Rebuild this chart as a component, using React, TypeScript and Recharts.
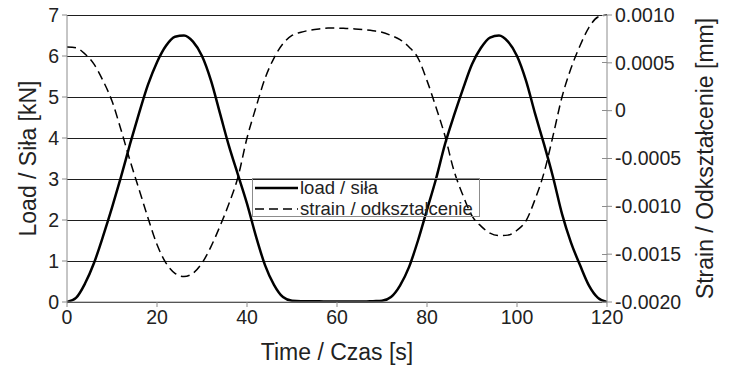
import { CartesianGrid, Legend, Line, LineChart, XAxis, YAxis } from 'recharts';

const times = [
  0, 2, 4, 6, 8, 10, 12, 14, 16, 18, 20, 22, 24, 26, 28, 30, 32, 34, 36, 38,
  40, 42, 44, 46, 48, 50, 52, 54, 56, 58, 60, 62, 64, 66, 68, 70, 72, 74, 76, 78,
  80, 82, 84, 86, 88, 90, 92, 94, 96, 98, 100, 102, 104, 106, 108, 110, 112, 114, 116, 118,
  120,
];

// kN
const load = [
  0, 0.1, 0.45, 0.95, 1.6, 2.3, 3.05, 3.85, 4.6, 5.3, 5.85, 6.25, 6.47, 6.5, 6.35, 6.0, 5.4, 4.6, 3.8, 3.1,
  2.4, 1.6, 0.9, 0.42, 0.12, 0.03, 0.02, 0.02, 0.02, 0.01, 0.01, 0.01, 0.01, 0.01, 0.02, 0.03, 0.12, 0.4, 0.85, 1.5,
  2.25, 3.0, 3.85, 4.55, 5.2, 5.8, 6.2, 6.45, 6.5, 6.35, 6.0, 5.4, 4.6, 3.85, 3.05, 2.15, 1.45, 0.9, 0.4, 0.1,
  0,
];

// mm
const strain = [
  0.000666, 0.000657, 0.000593, 0.000486, 0.000314, 0.0001, -0.0002, -0.000521, -0.000821, -0.001121,
  -0.0014, -0.001593, -0.0017, -0.001734, -0.0017, -0.001593, -0.001421, -0.001207, -0.000971, -0.000693,
  -0.000286, 0.000036, 0.000336, 0.00055, 0.0007, 0.000786, 0.00082, 0.000841, 0.000854, 0.000863,
  0.000863, 0.000859, 0.000854, 0.000846, 0.000835, 0.00082, 0.000786, 0.000743, 0.000666, 0.00055,
  0.000314, 0.000036, -0.000264, -0.000629, -0.000886, -0.0011, -0.001207, -0.00128, -0.001306, -0.001301,
  -0.00125, -0.001151, -0.000929, -0.00065, -0.000264, 0.000143, 0.000443, 0.000679, 0.000871, 0.000979,
  0.001,
];

const xTicks = [0, 20, 40, 60, 80, 100, 120];
const loadTicks = [0, 1, 2, 3, 4, 5, 6, 7];
const strainTicks = [-0.002, -0.0015, -0.001, -0.0005, 0, 0.0005, 0.001];

const data = times.map((t, i) => ({ t, load: load[i], strain: strain[i] }));

const FONT = '"Liberation Sans", Arial, Helvetica, sans-serif';
const TICK_SIZE = 5;
const TICK_MARGIN = 3;

function fmtStrain(v: number) {
  if (v === 0) return '0';
  return v.toFixed(4);
}

// right axis ticks cross the axis line (inside + outside)
function StrainTick({ x, y, payload }: any) {
  const axisX = x - TICK_MARGIN - TICK_SIZE;
  return (
    <g>
      <line x1={axisX - TICK_SIZE} y1={y} x2={axisX} y2={y} stroke="#8c8c8c" shapeRendering="crispEdges" />
      <text x={x} y={y} dy="0.35em" textAnchor="start" fill="#222" fontSize={19.5} fontFamily={FONT}>
        {fmtStrain(payload.value)}
      </text>
    </g>
  );
}

// grid lines drawn crisp so they stay dark like the original
function GridLine({ x1, x2, y1, y2 }: any) {
  return <line x1={x1} x2={x2} y1={y1} y2={y2} stroke="#1e1e1e" strokeWidth={1} shapeRendering="crispEdges" />;
}

function LegendBox() {
  return (
    <div
      style={{
        width: 228,
        height: 39,
        border: '1px solid #8c8c8c',
        boxSizing: 'border-box',
        position: 'relative',
        fontFamily: FONT,
        fontSize: 18.5,
        color: '#222',
      }}
    >
      <svg width={48} height={39} style={{ position: 'absolute', left: 0, top: 0 }}>
        <line x1={2} y1={9} x2={45} y2={9} stroke="#000" strokeWidth={2.5} />
        <line x1={2} y1={30} x2={45} y2={30} stroke="#000" strokeWidth={1.5} strokeDasharray="9 5" />
      </svg>
      <div style={{ position: 'absolute', left: 47, top: -2, lineHeight: '21px', whiteSpace: 'nowrap' }}>load / siła</div>
      <div style={{ position: 'absolute', left: 47, top: 19, lineHeight: '21px', whiteSpace: 'nowrap' }}>
        strain / odkształcenie
      </div>
    </div>
  );
}

export default function App() {
  return (
    <div style={{ position: 'absolute', left: 0, top: 0, width: 732, height: 370, background: '#fff', fontFamily: FONT }}>
      <LineChart width={732} height={370} data={data} margin={{ top: 15, right: 0, bottom: 0, left: 0 }}>
        <CartesianGrid yAxisId="load" vertical={false} horizontal={<GridLine />} />
        <XAxis
          dataKey="t"
          type="number"
          domain={[0, 120]}
          ticks={xTicks}
          height={68}
          stroke="#8c8c8c"
          tickSize={TICK_SIZE}
          tickMargin={3}
          tick={{ fill: '#222', fontSize: 19.5 }}
          label={{ value: 'Time / Czas [s]', position: 'center', dy: 16, fill: '#222', fontSize: 23 }}
        />
        <YAxis
          yAxisId="load"
          orientation="left"
          width={67}
          domain={[0, 7]}
          ticks={loadTicks}
          stroke="#8c8c8c"
          tickSize={TICK_SIZE}
          tickMargin={3}
          tick={{ fill: '#222', fontSize: 19.5 }}
          label={{ value: 'Load / Siła [kN]', angle: -90, position: 'center', dx: -6, fill: '#222', fontSize: 23 }}
        />
        <YAxis
          yAxisId="strain"
          orientation="right"
          width={125}
          domain={[-0.002, 0.001]}
          ticks={strainTicks}
          stroke="#8c8c8c"
          tickSize={TICK_SIZE}
          tickMargin={TICK_MARGIN}
          tick={<StrainTick />}
          label={{ value: 'Strain / Odkształcenie [mm]', angle: -90, position: 'center', dx: 35, fill: '#222', fontSize: 23 }}
        />
        <Legend
          layout="horizontal"
          align="center"
          verticalAlign="middle"
          content={<LegendBox />}
          wrapperStyle={{ left: 252, top: 178, width: 228, height: 39 }}
        />
        <Line
          yAxisId="load"
          type="monotone"
          dataKey="load"
          stroke="#000"
          strokeWidth={2.5}
          dot={false}
          isAnimationActive={false}
        />
        <Line
          yAxisId="strain"
          type="monotone"
          dataKey="strain"
          stroke="#000"
          strokeWidth={1.5}
          strokeDasharray="9 5"
          dot={false}
          isAnimationActive={false}
        />
      </LineChart>
    </div>
  );
}
